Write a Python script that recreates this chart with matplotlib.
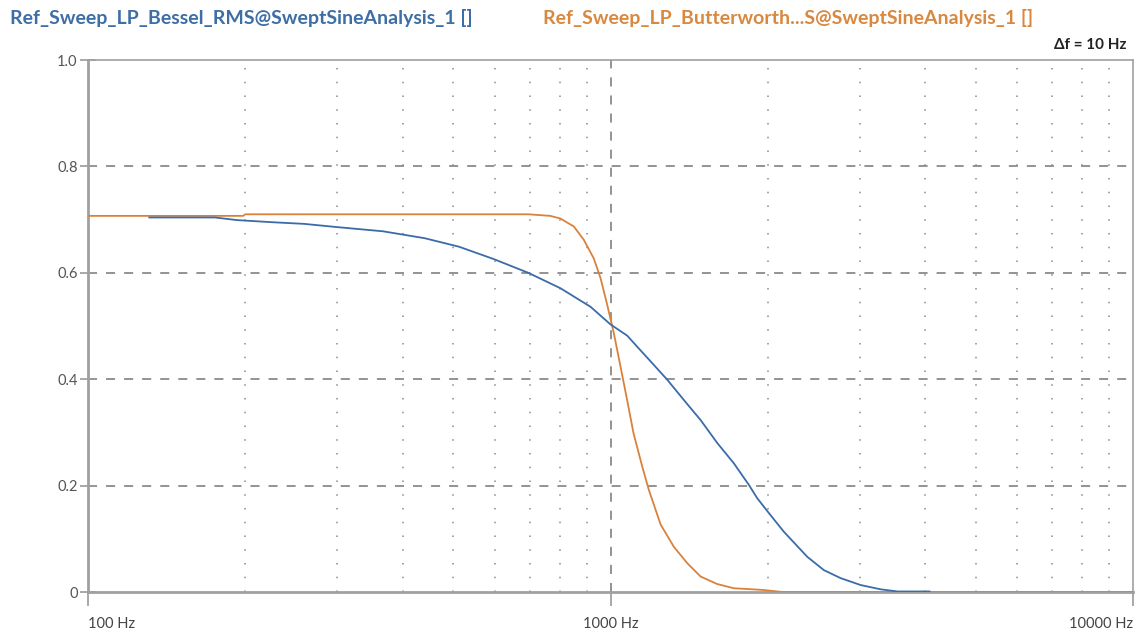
import matplotlib
matplotlib.use("Agg")
import matplotlib.pyplot as plt
from matplotlib.ticker import FixedLocator, NullFormatter

# values (frequency in Hz, RMS amplitude)
bessel_f = [131, 175, 193, 226, 259, 299, 367, 441, 513, 597, 696, 802, 916,
            1000, 1076, 1125, 1210, 1284, 1403, 1488, 1601, 1722, 1841, 1910,
            2011, 2148, 2381, 2562, 2758, 3013, 3291, 3542, 4080]
bessel_v = [0.704, 0.704, 0.699, 0.695, 0.692, 0.686, 0.678, 0.665, 0.649, 0.626,
            0.600, 0.571, 0.536, 0.503, 0.482, 0.461, 0.427, 0.399, 0.353, 0.323,
            0.280, 0.242, 0.201, 0.176, 0.148, 0.113, 0.066, 0.041, 0.026, 0.013,
            0.005, 0.001, 0.001]

butter_f = [100, 198, 200, 696, 767, 802, 851, 889, 929, 957, 985, 1015, 1045,
            1076, 1107, 1150, 1184, 1247, 1322, 1403, 1488, 1600, 1722, 1950,
            2133, 10000]
butter_v = [0.707, 0.707, 0.710, 0.710, 0.707, 0.702, 0.687, 0.662, 0.627, 0.590,
            0.541, 0.486, 0.424, 0.361, 0.298, 0.236, 0.192, 0.127, 0.085, 0.054,
            0.029, 0.015, 0.007, 0.004, 0.0, 0.0]

bessel_name = "Ref_Sweep_LP_Bessel_RMS@SweptSineAnalysis_1 []"
butter_name = "Ref_Sweep_LP_Butterworth...S@SweptSineAnalysis_1 []"
y_ticks = [0, 0.2, 0.4, 0.6, 0.8, 1.0]
y_labels = ["0", "0.2", "0.4", "0.6", "0.8", "1.0"]
minor_f = [200, 300, 400, 500, 600, 700, 800, 900,
           2000, 3000, 4000, 5000, 6000, 7000, 8000, 9000]

BLUE = "#3b6ba8"
ORANGE = "#d9823b"
GRID = "#8a8a8a"

plt.rcParams["font.family"] = ["Lato", "DejaVu Sans"]

fig = plt.figure(figsize=(11.39, 6.30), dpi=100)
ax = fig.add_axes([88 / 1139, 1 - 592 / 630, (1133 - 88) / 1139, (592 - 60) / 630])

ax.plot(butter_f, butter_v, color=ORANGE, lw=1.3, zorder=3)
ax.plot(bessel_f, bessel_v, color=BLUE, lw=1.3, zorder=4)

ax.set_xscale("log")
ax.set_xlim(100, 10000)
ax.set_ylim(0, 1.0)

# grid: dotted minor decades, dashed at 1 kHz and the y steps
for f in minor_f:
    ax.axvline(f, color=GRID, lw=1.1, ls=(0, (1, 8)), zorder=1)
ax.axvline(1000, color=GRID, lw=1.3, ls=(0, (5, 5)), zorder=1)
for y in y_ticks[1:-1]:
    ax.axhline(y, color=GRID, lw=1.3, ls=(0, (5, 5)), zorder=1)

ax.yaxis.set_major_locator(FixedLocator(y_ticks))
ax.set_yticklabels(y_labels)
ax.tick_params(axis="y", direction="inout", length=11, width=1.2, color="#999999",
               labelsize=10.5, labelcolor="#555555", pad=2)

ax.xaxis.set_major_locator(FixedLocator([100, 1000, 10000]))
ax.xaxis.set_minor_formatter(NullFormatter())
ax.xaxis.set_minor_locator(FixedLocator([]))
ax.set_xticklabels(["100 Hz", "1000 Hz", "10000 Hz"])
ax.tick_params(axis="x", direction="out", length=10, width=1.2, color="#999999",
               labelsize=10.5, labelcolor="#444444", pad=8)
xl = ax.get_xticklabels()
xl[0].set_ha("left")
xl[2].set_ha("right")

for side in ["left", "bottom"]:
    ax.spines[side].set_color("#a0a0a0")
    ax.spines[side].set_linewidth(2)
for side in ["top", "right"]:
    ax.spines[side].set_color("#a0a0a0")
    ax.spines[side].set_linewidth(1.2)

fig.text(10 / 1139, 1 - 18 / 630, bessel_name, color="#3d6ea5", fontsize=14,
         fontweight="bold", ha="left", va="center")
fig.text(543 / 1139, 1 - 18 / 630, butter_name, color="#d98840", fontsize=14,
         fontweight="bold", ha="left", va="center")
fig.text(1127 / 1139, 1 - 45 / 630, "\u0394f = 10 Hz", color="#222222", fontsize=11,
         fontweight="bold", ha="right", va="center")

fig.savefig("out.png", dpi=100)
